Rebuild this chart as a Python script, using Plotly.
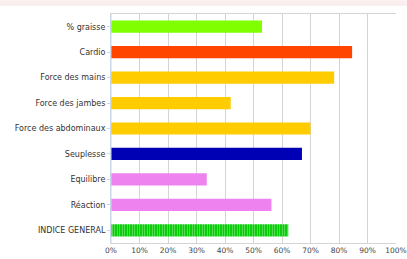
import plotly.graph_objects as go

categories = ["% graisse", "Cardio", "Force des mains", "Force des jambes",
              "Force des abdominaux", "Seuplesse", "Equilibre", "Réaction", "INDICE GENERAL"]
values = [53, 84.6, 78.3, 42, 70, 67, 33.6, 56.3, 62.2]
colors = ["#80ff00", "#ff4500", "#ffcc00", "#ffcc00", "#ffcc00",
          "#0000b4", "#ee82ee", "#ee82ee", "#00cc00"]
patterns = ["", "", "", "", "", "", "", "", "|"]
x_ticks = [0, 10, 20, 30, 40, 50, 60, 70, 80, 90, 100]
x_tick_labels = [f"{t}%" for t in x_ticks]

fig = go.Figure(go.Bar(
    y=categories, x=values, orientation="h",
    marker=dict(color=colors, line=dict(width=0),
                pattern=dict(shape=patterns, fgcolor="#008800", size=2.5, solidity=0.3)),
    width=0.48,
))
fig.update_layout(
    width=407, height=259,
    margin=dict(l=111, r=11, t=14, b=16, autoexpand=False),
    paper_bgcolor="white", plot_bgcolor="white",
    showlegend=False,
    font=dict(family="DejaVu Sans, sans-serif", size=7.5, color="#333333"),
    xaxis=dict(range=[0, 100], tickvals=x_ticks, ticktext=x_tick_labels,
               showgrid=True, gridcolor="#d4d4d4", gridwidth=1, zeroline=False,
               tickfont=dict(size=7.5, color="#444444"), ticks="", automargin=False,
               showline=True, mirror=True, linecolor="#d4d4d4"),
    yaxis=dict(autorange="reversed", showline=True, linecolor="#c8d8e8",
               ticks="outside", ticklen=3, tickcolor="#c8d8e8", automargin=False,
               tickfont=dict(size=8, color="#333333"), showgrid=False),
    shapes=[dict(type="rect", xref="paper", yref="paper", x0=-0.4, x1=1.05, y0=1.035, y1=1.06,
                 line=dict(width=0), fillcolor="#fbeeee", layer="below"),
            dict(type="line", xref="x", yref="paper", x0=0, x1=0, y0=0, y1=1,
                 line=dict(color="#c8d8e8", width=1))],
)
fig.write_html("out.html", config={"displayModeBar": False},
               post_script="document.body.style.margin='0';document.body.style.overflow='hidden';")
